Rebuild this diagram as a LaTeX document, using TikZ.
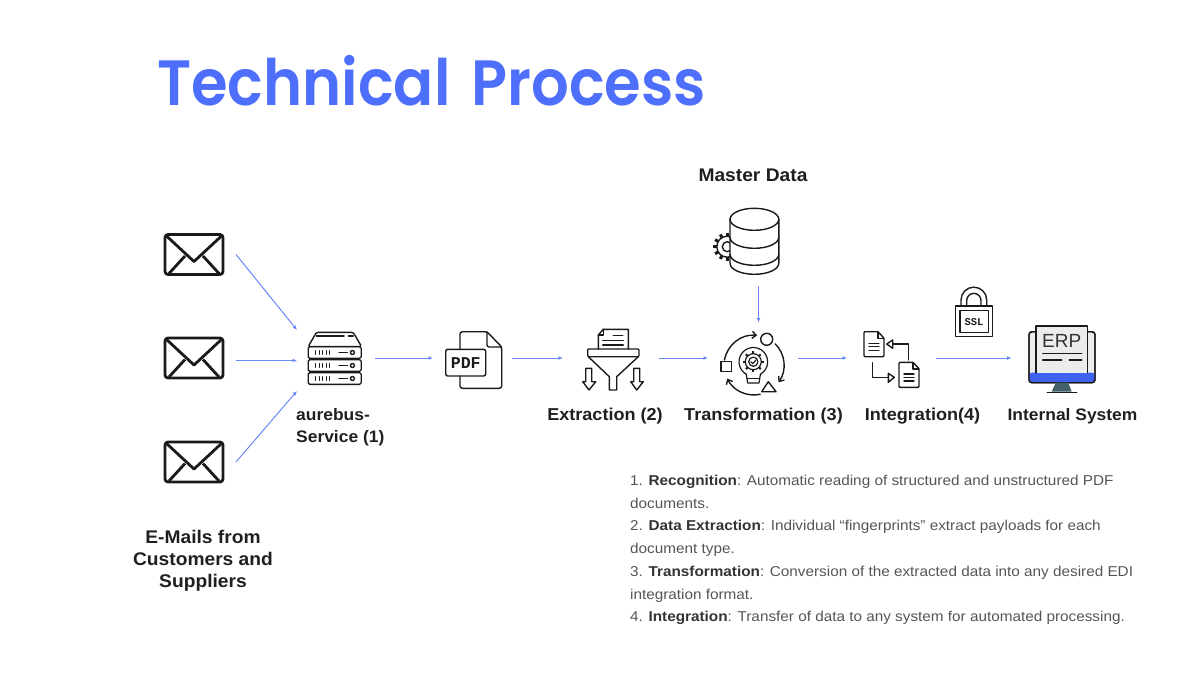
\documentclass[tikz,border=0pt]{standalone}
\usepackage{fontspec}
\setmainfont{Liberation Sans}
\newfontfamily\titlefont[FakeStretch=0.925]{Poppins SemiBold}
\newfontfamily\iconfont{Liberation Mono}
\newfontfamily\capfont[FakeStretch=1.05]{Liberation Sans}
\newfontfamily\notefont[FakeStretch=1.07]{Liberation Sans}
\usetikzlibrary{arrows.meta}
\definecolor{flowblue}{HTML}{6A86FB}
\definecolor{titleblue}{HTML}{4D6FFB}
\definecolor{inkdark}{HTML}{1A1A1A}
\definecolor{bodygrey}{HTML}{555555}
\definecolor{boldgrey}{HTML}{333333}
\definecolor{screenblue}{HTML}{3F63F0}
\definecolor{standslate}{HTML}{44606B}
\definecolor{screengrey}{HTML}{ECECEC}
\tikzset{
	port/.style={inner sep=0pt, outer sep=0pt},
	flow/.style={draw=flowblue, line width=1pt, -{Latex[length=4.5pt,width=4pt]}},
	icon/.style={draw=inkdark, line width=1.4pt, line join=round, line cap=round},
	envelopeline/.style={draw=inkdark, line width=2.8pt, line join=round},
	caption/.style={font=\capfont\bfseries\fontsize{17.2}{21}\selectfont, text=boldgrey!60!black, align=center, inner sep=0pt},
	smallcaption/.style={caption, font=\capfont\bfseries\fontsize{16.6}{22}\selectfont},
	bigcaption/.style={caption, font=\capfont\bfseries\fontsize{18.3}{22}\selectfont},
	turn/.style={icon, -{Straight Barb[length=4pt,width=7pt]}},
	envelope/.pic={
		\draw[envelopeline, rounded corners=3pt] (-29,-20) rectangle (29,20);
		\draw[envelopeline] (-28,19) -- (0,-7) -- (28,19);
		\draw[envelopeline] (-25,-19) -- (-9,-1.5);
		\draw[envelopeline] (25,-19) -- (9,-1.5);
	},
	smalldoc/.pic={
		\draw[icon, rounded corners=1pt] (-10,-12.5) -- (-10,12.5) -- (4,12.5) -- (10,6) -- (10,-12.5) -- cycle;
		\draw[icon] (4,12.5) -- (4,6) -- (10,6);
		\draw[icon] (-5,1) -- (5,1);
		\draw[icon] (-5,-2.5) -- (5,-2.5);
		\draw[icon] (-5,-6) -- (5,-6);
	},
	serverrow/.pic={
		\draw[icon, rounded corners=1.5pt] (-26.5,-5.8) rectangle (26.5,5.8);
		\foreach \tick in {-19,-15.5,-12,-8.5,-5}
			\draw[icon] (\tick,-1.7) -- (\tick,1.7);
		\draw[icon] (4.3,0) -- (12.7,0);
		\draw[icon] (17.7,0) circle (2);
	}
}
\begin{document}
\begin{tikzpicture}[x=1pt,y=1pt]
	\useasboundingbox (0,0) rectangle (1200,-675);

	\node (title) [anchor=base west, inner sep=0pt, text=titleblue, font=\titlefont\fontsize{64}{64}\selectfont] at (157,-105) {Technical\hspace{7pt} Process};

	\node (mail1) [port, minimum width=84pt, minimum height=44pt] at (194,-254.5) {};
	\node (mail2) [port, minimum width=84pt, minimum height=44pt] at (194,-358) {};
	\node (mail3) [port, minimum width=84pt, minimum height=44pt] at (194,-462) {};
	\node (server) [port, minimum width=78pt, minimum height=61pt] at (336,-360.5) {};
	\node (pdf) [port, minimum width=79pt, minimum height=60pt] at (472.5,-358) {};
	\node (extract) [port, minimum width=96pt, minimum height=62pt] at (611,-358) {};
	\node (transform) [port, minimum width=90pt, minimum height=71pt] at (753,-358) {};
	\node (integrate) [port, minimum width=89pt, minimum height=58pt] at (891.5,-358) {};
	\node (erp) [port, minimum width=101pt, minimum height=66pt] at (1062,-358) {};
	\node (master) [port, minimum width=66pt, minimum height=79pt] at (758.5,-246.5) {};

	\pic at (194,-254.5) {envelope};
	\pic at (194,-358) {envelope};
	\pic at (194,-462) {envelope};

	\draw[icon, rounded corners=1.5pt] (308.2,-346.5) -- (316.5,-332.3) -- (353.2,-332.3) -- (361.5,-346.5) -- cycle;
	\draw[icon, line width=1.6pt] (316.5,-336) -- (344,-336);
	\draw[icon, line width=1.6pt] (348.5,-336) -- (353.2,-336);
	\pic at (334.7,-352.5) {serverrow};
	\pic at (334.7,-365.5) {serverrow};
	\pic at (334.7,-378.5) {serverrow};

	\draw[icon, rounded corners=2.5pt] (460,-349) -- (460,-331.7) -- (487,-331.7) -- (501.7,-347) -- (501.7,-388.3) -- (460,-388.3) -- (460,-376);
	\draw[icon, rounded corners=2pt] (487,-331.7) -- (487,-347) -- (501.7,-347);
	\draw[icon, rounded corners=2pt] (445.7,-349.3) rectangle (485.7,-376);
	\node (pdftext) [inner sep=0pt, text=inkdark, font=\iconfont\bfseries\fontsize{16.5}{17}\selectfont] at (465.7,-362.7) {PDF};

	\draw[icon] (598.3,-349) -- (598.3,-335) -- (603.3,-329.3) -- (628.3,-329.3) -- (628.3,-349);
	\draw[icon] (598.3,-335) -- (603.3,-335) -- (603.3,-329.3);
	\draw[icon] (613.3,-335.7) -- (622.7,-335.7);
	\draw[icon] (602.7,-340.7) -- (623.3,-340.7);
	\draw[icon] (602.7,-345) -- (623.3,-345);
	\draw[icon, rounded corners=1pt] (587.7,-349) rectangle (639,-356.7);
	\draw[icon] (588.3,-356.7) -- (609.3,-376.7) -- (609.3,-390) -- (616.7,-390) -- (616.7,-376.7) -- (638.3,-356.7);
	\draw[icon] (585.7,-368.3) -- (585.7,-381.7) -- (582.7,-381.7) -- (589,-390) -- (595.7,-381.7) -- (591.7,-381.7) -- (591.7,-368.3) -- cycle;
	\draw[icon] (633.7,-368.3) -- (633.7,-381.7) -- (630.7,-381.7) -- (636.7,-390) -- (643.3,-381.7) -- (639.7,-381.7) -- (639.7,-368.3) -- cycle;

	\draw[turn] (724.5,-360) arc[start angle=170, end angle=84, radius=30pt];
	\draw[turn] (775.2,-343.8) arc[start angle=45, end angle=-35, radius=30pt];
	\draw[turn] (760.2,-394.3) arc[start angle=-78, end angle=-153, radius=30pt];
	\draw[icon] (766.7,-339.3) circle (6);
	\draw[icon] (721,-361.7) rectangle (731.7,-371.7);
	\draw[icon] (761.7,-391.7) -- (768.3,-381.7) -- (776,-391.7) -- cycle;
	\draw[icon, line width=1.2pt] (746.2,-374.2) arc[start angle=240, end angle=-60, radius=14.3pt];
	\draw[icon, line width=1.2pt] (746.2,-374.2) -- (747.7,-383) -- (759,-383) -- (760.4,-374.2);
	\draw[icon, line width=1.2pt] (747.5,-378.5) -- (759.2,-378.5);
	\draw[icon, line width=1.2pt] (753.3,-361.7) circle (8);
	\foreach \ang in {0,45,...,315}
		\draw[icon, line width=2pt, line cap=butt] (753.3,-361.7) ++(\ang:8) -- ++(\ang:2.5);
	\draw[icon, line width=1.2pt] (753.3,-361.7) circle (4.6);
	\draw[icon, line width=1.2pt] (750.8,-361.7) -- (752.7,-363.6) -- (756,-360);

	\foreach \ang in {90,120,...,270}
		\draw[icon, line width=3pt, line cap=butt] (727.3,-246.7) ++(\ang:10.5) -- ++(\ang:3.6);
	\draw[icon] (727.3,-246.7) circle (10.5);
	\draw[icon] (727.3,-246.7) circle (5);
	\draw[icon, fill=white] (730,-219.3) -- (730,-263.3) arc[start angle=180, end angle=360, x radius=24.4pt, y radius=11pt] -- (778.8,-219.3) arc[start angle=0, end angle=180, x radius=24.4pt, y radius=11pt];
	\draw[icon] (730,-219.3) arc[start angle=180, end angle=360, x radius=24.4pt, y radius=11pt];
	\draw[icon] (730,-237.3) arc[start angle=180, end angle=360, x radius=24.4pt, y radius=11pt];
	\draw[icon] (730,-254.3) arc[start angle=180, end angle=360, x radius=24.4pt, y radius=11pt];

	\pic at (874,-344.2) {smalldoc};
	\pic at (909,-374.8) {smalldoc};
	\draw[icon] (908.3,-360) -- (908.3,-344) -- (892.7,-344);
	\draw[icon] (886.7,-344) -- (892.7,-340) -- (892.7,-348.3) -- cycle;
	\draw[icon] (872.3,-362.7) -- (872.3,-377.3) -- (888.3,-377.3);
	\draw[icon] (894.3,-377.3) -- (888.3,-373.3) -- (888.3,-382.3) -- cycle;

	\draw[icon] (961,-306) -- (961,-300) arc[start angle=180, end angle=0, radius=12.85pt] -- (986.7,-306);
	\draw[icon] (966.7,-306) -- (966.7,-300.5) arc[start angle=180, end angle=0, radius=7.15pt] -- (981,-306);
	\draw[icon] (955.7,-306) rectangle (992.3,-336.7);
	\draw[icon] (960,-310.7) rectangle (988.3,-332.3);
	\node (ssl) [inner sep=0pt, text=inkdark, font=\iconfont\bfseries\fontsize{10.5}{11}\selectfont] at (974,-321.7) {SSL};

	\draw[icon, fill=screengrey, rounded corners=3pt] (1029,-331.7) rectangle (1095,-382.7);
	\fill[screenblue, rounded corners=3pt] (1029,-372.7) rectangle (1095,-382.7);
	\draw[icon, rounded corners=3pt] (1029,-331.7) rectangle (1095,-382.7);
	\draw[icon, fill=screengrey] (1036,-372.7) -- (1036,-326) -- (1087.7,-326) -- (1087.7,-372.7);
	\node (erptext) [inner sep=0pt, text=boldgrey, font=\fontsize{19}{20}\selectfont] at (1061.7,-340.7) {ERP};
	\draw[icon] (1042.7,-353.3) -- (1081.7,-353.3);
	\draw[icon] (1042.7,-360) -- (1061.7,-360);
	\draw[icon] (1069.3,-360) -- (1081.7,-360);
	\fill[standslate] (1055.7,-382.7) -- (1068.3,-382.7) -- (1071.7,-391.7) -- (1051.7,-391.7) -- cycle;
	\draw[icon] (1047.3,-392.3) -- (1076.7,-392.3);

	\draw[flow] (mail1.east) -- (server.north west);
	\draw[flow] (mail2.east |- server.west) -- (server.west);
	\draw[flow] (mail3.east) -- (server.south west);
	\draw[flow] (server.east |- pdf.west) -- (pdf.west);
	\draw[flow] (pdf.east) -- (extract.west);
	\draw[flow] (extract.east) -- (transform.west);
	\draw[flow] (transform.east) -- (integrate.west);
	\draw[flow] (integrate.east) -- (erp.west);
	\draw[flow] (master.south) -- (master.south |- transform.north);

	\node (mastercap) [bigcaption] at (753,-175) {Master Data};
	\node (servercap) [smallcaption, anchor=north west, align=left] at (296,-408) {aurebus-\\Service (1)};
	\node (extractcap) [caption] at (605,-416.5) {Extraction (2)};
	\node (transformcap) [caption] at (763.5,-416.5) {Transformation (3)};
	\node (integratecap) [caption] at (922.5,-416.5) {Integration(4)};
	\node (erpcap) [smallcaption] at (1072.5,-416.5) {Internal System};
	\node (mailcap) [bigcaption] at (203,-561) {E-Mails from\\Customers and\\Suppliers};

	\node (notes) [anchor=north west, inner sep=0pt, align=left, text=bodygrey, font=\notefont\fontsize{14.3}{22.7}\selectfont] at (630,-475) {1. \textbf{\color{boldgrey}Recognition}: Automatic reading of structured and unstructured PDF\\documents.\\2. \textbf{\color{boldgrey}Data Extraction}: Individual “fingerprints” extract payloads for each\\document type.\\3. \textbf{\color{boldgrey}Transformation}: Conversion of the extracted data into any desired EDI\\integration format.\\4. \textbf{\color{boldgrey}Integration}: Transfer of data to any system for automated processing.};
\end{tikzpicture}
\end{document}
